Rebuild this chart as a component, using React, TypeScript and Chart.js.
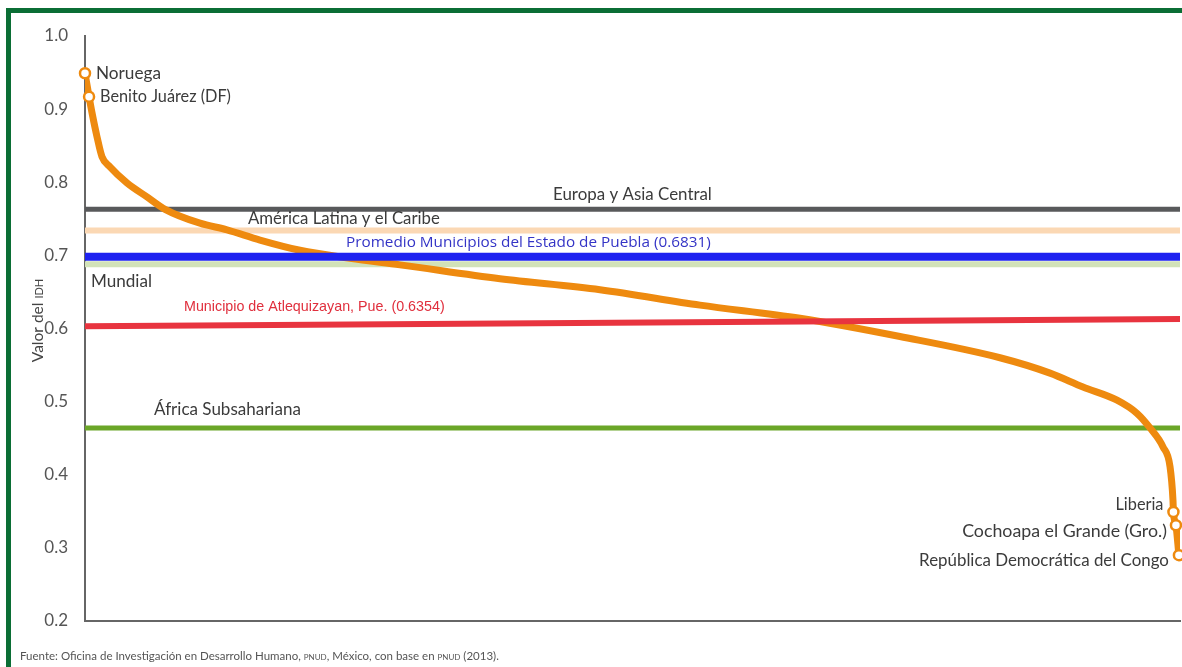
import React, { useEffect, useRef } from "react";
import { Chart, registerables } from "chart.js";
Chart.register(...registerables);

// Distribution of HDI values (rank as % of the ordered list, value of IDH)
const curveRank = [0, 0.37, 0.64, 1.1, 1.55, 2.28, 3.84, 5.66, 7.31, 10.5, 12.97, 15.98, 19.63, 24.2, 28.77, 37.9, 47.03, 56.16, 65.3, 74.43, 83.56, 88.13, 91.14, 94.25, 96.07, 97.26, 98.45, 99.09, 99.36, 99.4, 99.63, 99.9];
const curveIDH = [0.949, 0.917, 0.895, 0.862, 0.835, 0.821, 0.799, 0.78, 0.763, 0.744, 0.735, 0.721, 0.707, 0.696, 0.687, 0.668, 0.653, 0.632, 0.614, 0.589, 0.56, 0.539, 0.52, 0.502, 0.484, 0.464, 0.438, 0.411, 0.365, 0.349, 0.331, 0.29];

// Highlighted points
const highlightNames = ["Noruega", "Benito Juárez (DF)", "Liberia", "Cochoapa el Grande (Gro.)", "República Democrática del Congo"];
const highlightRank = [0, 0.37, 99.4, 99.63, 99.9];
const highlightIDH = [0.949, 0.917, 0.349, 0.331, 0.29];

// Reference lines (value at left end, value at right end)
const refNames = ["Europa y Asia Central", "América Latina y el Caribe", "Promedio Municipios del Estado de Puebla (0.6831)", "Mundial", "Municipio de Atlequizayan, Pue. (0.6354)", "África Subsahariana"];
const refStart = [0.763, 0.734, 0.698, 0.688, 0.603, 0.464];
const refEnd = [0.763, 0.734, 0.698, 0.688, 0.613, 0.464];

// Y ticks
const yMin = 0.2;
const yMax = 1.0;
const yStep = 0.1;

const refColors = ["#58595b", "#fbd8b4", "#1e22f0", "#d2e2b8", "#e8343f", "#6ba628"];
const refWidths = [5, 6, 8, 6, 6, 5];
const refOrder = [3, 3, 1, 3, 0, 3];
const ORANGE = "#ee8a0f";

// label layout: [x-offset-from-chart-left, y-offset-from-line(px), target width, font family, color]
const refLabelStyle: [number, number, number, string, string][] = [
  [468, -15, 159, "Lato", "#3b3b3b"],
  [163, -12, 192, "Lato", "#3b3b3b"],
  [261, -14, 365, "'Open Sans'", "#3434c6"],
  [6, 17, 61, "Lato", "#3b3b3b"],
  [99, -19, 261, "'Liberation Sans'", "#e02f3d"],
  [69, -18, 147, "Lato", "#3b3b3b"],
];
// highlight label: [dx from point, dy from point, target width, align]
const hlLabelStyle: [number, number, number, CanvasTextAlign][] = [
  [11, 0, 65, "left"],
  [11, 0, 131, "left"],
  [-10, -7, 48, "right"],
  [-9, 6, 205, "right"],
  [-10, 5, 250, "right"],
];

function fitText(ctx: CanvasRenderingContext2D, text: string, family: string, target: number) {
  ctx.font = `20px ${family}`;
  const w = ctx.measureText(text).width;
  const size = (20 * target) / w;
  ctx.font = `${size.toFixed(2)}px ${family}`;
}

const labelsPlugin = {
  id: "labels",
  afterDatasetsDraw(chart: any) {
    const { ctx, chartArea, scales } = chart;
    const xs = scales.x;
    const ys = scales.y;
    ctx.save();
    ctx.textBaseline = "middle";
    refNames.forEach((name, i) => {
      const [dx, dy, tw, fam, col] = refLabelStyle[i];
      const x = chartArea.left + dx;
      const rank = xs.getValueForPixel(x);
      const v = refStart[i] + ((refEnd[i] - refStart[i]) * rank) / 100;
      const y = ys.getPixelForValue(v) + dy;
      fitText(ctx, name, fam, tw);
      ctx.fillStyle = col;
      ctx.textAlign = "left";
      ctx.fillText(name, x, y);
    });
    highlightNames.forEach((name, i) => {
      const [dx, dy, tw, al] = hlLabelStyle[i];
      const x = xs.getPixelForValue(highlightRank[i]) + dx;
      const y = ys.getPixelForValue(highlightIDH[i]) + dy;
      fitText(ctx, name, "Lato", tw);
      ctx.fillStyle = "#3b3b3b";
      ctx.textAlign = al;
      ctx.fillText(name, x, y);
    });
    // y axis title
    ctx.save();
    ctx.translate(38, (chartArea.top + chartArea.bottom) / 2 - 8);
    ctx.rotate(-Math.PI / 2);
    ctx.fillStyle = "#444";
    ctx.font = "15.5px Lato";
    const a = "Valor del ";
    const wa = ctx.measureText(a).width;
    ctx.font = "11px Lato";
    const b = "IDH";
    const wb = ctx.measureText(b).width;
    const start = -(wa + wb) / 2;
    ctx.textAlign = "left";
    ctx.font = "15.5px Lato";
    ctx.fillText(a, start, 0);
    ctx.font = "11px Lato";
    ctx.fillText(b, start + wa, 1);
    ctx.restore();
    ctx.restore();
  },
};

export default function App() {
  const ref = useRef<HTMLCanvasElement>(null);
  useEffect(() => {
    const canvas = ref.current!;
    const datasets: any[] = [];
    datasets.push({
      label: "Puntos",
      data: highlightRank.map((r, i) => ({ x: r, y: highlightIDH[i] })),
      showLine: false,
      pointRadius: 5,
      pointBorderWidth: 2.5,
      pointBackgroundColor: "#ffffff",
      pointBorderColor: ORANGE,
      order: -1,
      clip: false,
    });
    refNames.forEach((n, i) => {
      datasets.push({
        label: n,
        data: [
          { x: 0, y: refStart[i] },
          { x: 100, y: refEnd[i] },
        ],
        borderColor: refColors[i],
        borderWidth: refWidths[i],
        pointRadius: 0,
        fill: false,
        order: refOrder[i],
      });
    });
    datasets.push({
      label: "IDH",
      data: curveRank.map((r, i) => ({ x: r, y: curveIDH[i] })),
      borderColor: ORANGE,
      borderWidth: 7,
      pointRadius: 0,
      fill: false,
      cubicInterpolationMode: "monotone",
      borderJoinStyle: "round",
      borderCapStyle: "round",
      order: 2,
    });
    const chart = new Chart(canvas, {
      type: "line",
      data: { datasets },
      options: {
        responsive: false,
        maintainAspectRatio: false,
        animation: false,
        layout: { autoPadding: false, padding: { left: 0, top: 36, right: 2, bottom: 46 } },
        plugins: { legend: { display: false }, tooltip: { enabled: false } },
        scales: {
          x: {
            type: "linear",
            min: 0,
            max: 100,
            grid: { display: false },
            ticks: { display: false },
            border: { display: true, color: "#666", width: 2 },
            afterFit: (s: any) => {
              s.height = 0;
            },
          },
          y: {
            min: yMin,
            max: yMax,
            grid: { display: false },
            border: { display: true, color: "#666", width: 2 },
            ticks: {
              stepSize: yStep,
              padding: 9,
              color: "#555",
              font: { family: "Lato", size: 17 },
              callback: (v: any) => Number(v).toFixed(1),
            },
            afterFit: (s: any) => {
              s.width = 85;
            },
          },
        },
      } as any,
      plugins: [labelsPlugin],
    });
    return () => chart.destroy();
  }, []);
  return (
    <div style={{ position: "absolute", left: 0, top: 0, width: 1182, height: 667, background: "#fff", overflow: "hidden" }}>
      <canvas ref={ref} width={1182} height={667} style={{ position: "absolute", left: 0, top: 0, width: 1182, height: 667 }} />
      <div
        style={{
          position: "absolute",
          left: 6,
          top: 8,
          width: 1200,
          height: 700,
          borderLeft: "5px solid #0b6e35",
          borderTop: "5px solid #0b6e35",
          boxSizing: "border-box",
          pointerEvents: "none",
        }}
      />
      <div
        style={{
          position: "absolute",
          left: 20,
          top: 649,
          fontFamily: "Lato, sans-serif",
          fontSize: 11.5,
          color: "#555",
          whiteSpace: "nowrap",
        }}
      >
        Fuente: Oficina de Investigación en Desarrollo Humano, <span style={{ fontSize: 8 }}>PNUD</span>, México, con base en <span style={{ fontSize: 8 }}>PNUD</span> (2013).
      </div>
    </div>
  );
}
